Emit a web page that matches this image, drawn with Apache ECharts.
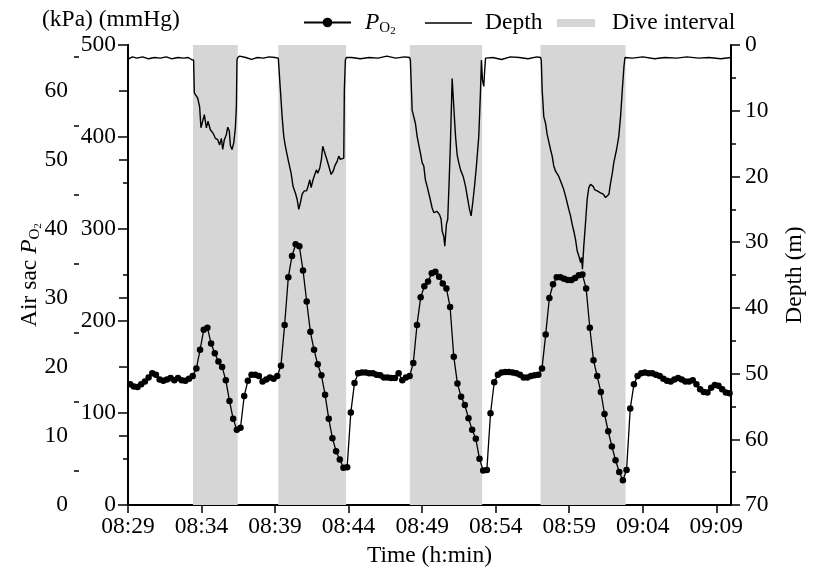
<!DOCTYPE html>
<html><head><meta charset="utf-8">
<script src="https://cdn.jsdelivr.net/npm/echarts@6/dist/echarts.min.js"></script>
<style>html,body{margin:0;padding:0;background:#fff}#c{width:817px;height:573px}</style>
</head><body><div id="c"></div>
<script>
// ---- data (time in minutes after 08:29) ----
const xTickValues = [0,5,10,15,20,25,30,35,40];
const xTickLabels = ['08:29','08:34','08:39','08:44','08:49','08:54','08:59','09:04','09:09'];
const kPaTicks = [0,10,20,30,40,50,60];
const kPaMinorTicks = [5,15,25,35,45,55,65];
const diveStart = [4.42, 10.22, 19.16, 28.05];
const diveEnd   = [7.46, 14.83, 24.08, 33.83];

// Air-sac PO2 (kPa), one sample every 15 s starting 0.15 min after 08:29
const PO2_T0 = 0.15, PO2_DT = 0.25;
const po2Values = [
 17.5,17.2,17.1,17.5,17.9,18.5,19.1,18.9,18.2,18.0,18.2,18.4,18.1,18.4,18.1,18.0,18.3,18.7,
 19.8,22.5,25.4,25.7,23.4,22.0,20.8,20.0,18.1,15.1,12.5,10.9,11.2,
 15.8,18.0,18.9,18.9,18.7,17.9,18.2,18.5,18.3,18.7,20.2,
 26.1,33.0,36.1,37.8,37.5,34.0,29.5,25.1,22.5,20.4,18.8,16.0,12.5,9.7,7.8,6.6,5.4,5.5,
 13.4,17.7,19.1,19.2,19.2,19.1,19.1,18.9,18.8,18.5,18.5,18.4,18.4,19.1,18.1,18.5,18.7,
 20.6,26.1,30.1,31.7,32.4,33.6,33.8,33.1,32.1,31.4,28.7,
 21.5,17.6,15.7,14.5,12.6,10.9,9.6,6.7,5.0,5.1,
 13.3,17.8,18.9,19.2,19.3,19.3,19.2,19.1,18.9,18.5,18.5,18.7,18.8,18.9,
 19.8,24.7,30.0,
 32.0,33.0,33.0,32.8,32.6,32.6,32.9,33.3,33.4,
 31.4,25.7,21.0,18.7,16.4,13.2,10.7,8.5,6.5,4.8,3.6,5.1,
 14.0,17.5,18.7,19.1,19.2,19.1,19.1,18.9,18.7,18.3,18.0,17.9,18.2,18.4,18.2,17.9,17.9,18.1,
 17.5,16.8,16.4,16.3,17.0,17.4,17.3,16.8,16.3,16.2
];

// Depth (m) as [minute, depth]
const depthSurface1 = [[0,1.6],[0.05,2.1],[0.3,1.8],[0.6,2.0],[1.0,1.8],[1.4,2.1],[1.8,1.9],[2.2,2.0],[2.6,1.8],[3.0,2.1],[3.4,1.9],[3.8,2.0],[4.1,1.9],[4.3,2.2],[4.42,2.0]];
const depthDive1 = [[4.46,2.3],[4.51,7.3],[4.74,8.1],[4.87,9.4],[4.96,12.6],[5.10,11.4],[5.19,10.6],[5.33,12.6],[5.44,11.6],[5.60,12.9],[5.78,13.4],[5.94,14.2],[6.10,14.4],[6.23,15.2],[6.35,14.2],[6.44,15.9],[6.55,14.4],[6.69,13.6],[6.78,12.5],[6.89,13.1],[6.96,15.3],[7.07,15.9],[7.19,14.9],[7.30,12.6],[7.37,9.4],[7.41,2.3],[7.46,1.9]];
const depthSurface2 = [[7.6,1.7],[8.0,1.9],[8.4,2.2],[8.8,1.9],[9.2,2.0],[9.6,1.8],[10.0,1.9],[10.22,2.0]];
const depthDive2 = [[10.27,2.3],[10.36,6.8],[10.48,10.9],[10.59,13.9],[10.70,15.4],[10.77,16.2],[10.93,17.9],[11.09,19.5],[11.22,21.5],[11.38,22.5],[11.50,23.5],[11.61,25.0],[11.72,24.0],[11.84,22.7],[11.99,22.2],[12.13,22.2],[12.22,21.7],[12.36,20.5],[12.45,21.7],[12.58,20.5],[12.70,19.7],[12.81,19.0],[12.90,19.5],[13.04,18.7],[13.15,17.4],[13.24,15.4],[13.35,16.2],[13.49,17.2],[13.65,18.4],[13.81,19.7],[13.95,19.2],[14.06,18.4],[14.22,17.7],[14.33,16.9],[14.44,17.4],[14.56,17.2],[14.67,17.2],[14.71,6.8],[14.78,2.3],[14.85,1.9]];
const depthSurface3 = [[15.2,1.9],[15.8,2.1],[16.4,1.9],[17.0,2.0],[17.6,1.7],[18.2,2.0],[18.8,1.8],[19.15,1.9]];
const depthDive3 = [[19.20,2.3],[19.32,9.9],[19.54,11.9],[19.66,13.9],[19.77,15.2],[19.88,16.4],[20.00,17.9],[20.11,18.4],[20.22,20.5],[20.34,21.5],[20.52,23.2],[20.68,24.8],[20.79,25.5],[21.02,25.3],[21.18,25.8],[21.29,26.5],[21.36,28.3],[21.47,29.1],[21.54,30.6],[21.65,27.3],[21.74,26.5],[21.84,20.5],[21.93,14.4],[22.04,5.1],[22.15,9.4],[22.27,13.9],[22.38,16.7],[22.49,17.9],[22.61,19.0],[22.79,20.0],[22.95,21.5],[23.10,23.5],[23.22,25.0],[23.33,26.0],[23.44,24.0],[23.56,21.5],[23.69,18.4],[23.85,13.9],[23.97,6.8],[24.03,2.3],[24.10,5.3],[24.19,6.3],[24.24,4.3],[24.31,2.0]];
const depthSurface4 = [[24.8,1.9],[25.4,2.2],[26.0,1.8],[26.6,1.9],[27.2,2.1],[27.8,1.8],[28.05,1.9]];
const depthDive4 = [[28.10,2.3],[28.16,6.8],[28.27,10.9],[28.39,11.9],[28.50,13.6],[28.61,14.7],[28.73,15.9],[28.84,16.9],[28.95,18.4],[29.07,19.2],[29.18,19.0],[29.29,20.0],[29.41,20.7],[29.52,21.0],[29.63,22.0],[29.75,23.0],[29.86,24.0],[29.97,25.0],[30.09,26.0],[30.20,27.3],[30.31,28.3],[30.43,29.6],[30.54,31.3],[30.61,31.8],[30.68,31.6],[30.72,32.6],[30.77,33.1],[30.84,32.3],[30.90,34.1],[30.99,30.6],[31.11,27.0],[31.22,23.5],[31.33,21.7],[31.45,21.2],[31.56,20.9],[31.63,21.5],[31.72,22.0],[31.90,22.2],[32.13,22.5],[32.31,22.7],[32.47,23.2],[32.59,23.5],[32.70,22.7],[32.81,21.0],[32.93,19.5],[33.03,17.9],[33.22,15.9],[33.37,13.9],[33.49,10.9],[33.61,6.8],[33.72,3.3],[33.79,1.9]];
const depthSurface5 = [[34.3,2.0],[35.0,1.8],[35.8,2.1],[36.5,1.9],[37.3,2.0],[38.0,1.8],[38.8,2.0],[39.5,1.9],[40.3,2.1],[41.0,1.9]];

// ---- chart ----
const FONT = 'Liberation Serif';
const FS = 23.5;
const depthData = [].concat(depthSurface1, depthDive1, depthSurface2, depthDive2, depthSurface3, depthDive3, depthSurface4, depthDive4, depthSurface5);
const po2Data = po2Values.map((v, i) => [PO2_T0 + i * PO2_DT, v]);
const KPA_PER_MMHG = 1 / 7.50062;

const axisLine = {show: true, lineStyle: {color: '#000', width: 2}};
const txt = {color: '#000', fontFamily: FONT, fontSize: FS};
const richSub = {
  n: {fontFamily: FONT, fontSize: FS, color: '#000'},
  i: {fontFamily: FONT, fontSize: FS, fontStyle: 'italic', color: '#000'},
  s: {fontFamily: FONT, fontSize: 15, color: '#000', padding: [12, 0, 0, 0]},
  t: {fontFamily: FONT, fontSize: 11, color: '#000', padding: [18, 0, 0, 0]}
};

const chart = echarts.init(document.getElementById('c'), null, {renderer: 'canvas'});
chart.setOption({
  animation: false,
  backgroundColor: '#fff',
  grid: {left: 128, right: 86, top: 45, bottom: 66, containLabel: false},
  legend: [
    {left: 303, top: 11, padding: 0, itemWidth: 47, itemHeight: 12, itemGap: 0,
     data: [{name: 'PO2'}],
     formatter: () => '{i|P}{s|O}{t|2}',
     textStyle: Object.assign({}, txt, {padding: [0, 0, 0, 9], rich: richSub})},
    {left: 425, top: 11, padding: 0, itemWidth: 47, itemHeight: 1.6,
     data: [{name: 'Depth', icon: 'rect', itemStyle: {color: '#000'}}],
     textStyle: Object.assign({}, txt, {padding: [0, 0, 0, 8]})},
    {left: 557, top: 11, padding: 0, itemWidth: 38, itemHeight: 8,
     data: [{name: 'Dive interval', icon: 'rect', itemStyle: {color: '#d6d6d6'}}],
     textStyle: Object.assign({}, txt, {padding: [0, 0, 0, 12]})}
  ],
  graphic: [
    {type: 'text', left: 42, top: 8, style: {text: '(kPa) (mmHg)', font: FS + 'px "' + FONT + '"', fill: '#000'}}
  ],
  xAxis: [
    {type: 'value', position: 'bottom', min: 0, max: 41, interval: 5,
     axisLine: axisLine,
     axisTick: {show: true, length: 8, lineStyle: {color: '#000', width: 1.5}, customValues: xTickValues},
     axisLabel: Object.assign({}, txt, {margin: 10, customValues: xTickValues,
       formatter: v => { const k = xTickValues.indexOf(Math.round(v)); return k >= 0 && Math.abs(v - Math.round(v)) < 1e-6 ? xTickLabels[k] : ''; }}),
     splitLine: {show: false},
     name: 'Time (h:min)', nameLocation: 'middle', nameGap: 33, nameTextStyle: txt},
    {type: 'value', position: 'top', min: 0, max: 41,
     axisLine: axisLine, axisTick: {show: false}, axisLabel: {show: false}, splitLine: {show: false}}
  ],
  yAxis: [
    {type: 'value', position: 'left', min: 0, max: 500, interval: 100,
     axisLine: axisLine,
     axisTick: {show: true, length: 10, lineStyle: {color: '#000', width: 1.5}},
     minorTick: {show: true, splitNumber: 2, length: 5, lineStyle: {color: '#000', width: 1.5}},
     axisLabel: Object.assign({}, txt, {margin: 12}),
     splitLine: {show: false}, minorSplitLine: {show: false}},
    {type: 'value', position: 'left', offset: 49, min: 0, max: 500 * KPA_PER_MMHG, interval: 10,
     axisLine: axisLine,
     axisTick: {show: true, length: 9, lineStyle: {color: '#000', width: 1.5}, customValues: kPaTicks},
     axisLabel: Object.assign({}, txt, {margin: 11, customValues: kPaTicks,
       formatter: v => (Math.abs(v - Math.round(v)) < 1e-6 && Math.round(v) % 10 === 0) ? String(Math.round(v)) : ''}),
     splitLine: {show: false},
     name: '{n|Air sac }{i|P}{s|O}{t|2}', nameLocation: 'middle', nameGap: 35, nameMoveOverlap: false,
     nameTextStyle: Object.assign({}, txt, {rich: richSub})},
    {type: 'value', position: 'right', inverse: true, min: 0, max: 70, interval: 10,
     axisLine: axisLine,
     axisTick: {show: true, length: 9, lineStyle: {color: '#000', width: 1.5}},
     minorTick: {show: true, splitNumber: 2, length: 5, lineStyle: {color: '#000', width: 1.5}},
     axisLabel: Object.assign({}, txt, {margin: 14}),
     splitLine: {show: false}, minorSplitLine: {show: false},
     name: 'Depth (m)', nameLocation: 'middle', nameGap: 52, nameTextStyle: txt},
    {type: 'value', position: 'left', offset: 49, min: 0, max: 500 * KPA_PER_MMHG,
     axisLine: {show: false},
     axisTick: {show: true, length: 5, lineStyle: {color: '#000', width: 1.5}, customValues: kPaMinorTicks},
     axisLabel: {show: false}, splitLine: {show: false}}
  ],
  series: [
    {name: 'Dive interval', type: 'line', xAxisIndex: 0, yAxisIndex: 0, data: [],
     symbol: 'none', itemStyle: {color: '#d6d6d6'}, lineStyle: {opacity: 0}, z: 1,
     markArea: {silent: true, itemStyle: {color: '#d6d6d6'},
       data: diveStart.map((s, i) => [{xAxis: s}, {xAxis: diveEnd[i]}])}},
    {name: 'Depth', type: 'line', xAxisIndex: 0, yAxisIndex: 2, data: depthData,
     symbol: 'none', lineStyle: {color: '#000', width: 1.4}, itemStyle: {color: '#000'}, z: 3},
    {name: 'PO2', type: 'line', xAxisIndex: 0, yAxisIndex: 1, data: po2Data,
     symbol: 'circle', symbolSize: 6.5, showAllSymbol: true,
     lineStyle: {color: '#000', width: 1.3}, itemStyle: {color: '#000'}, z: 4}
  ]
});
</script></body></html>
